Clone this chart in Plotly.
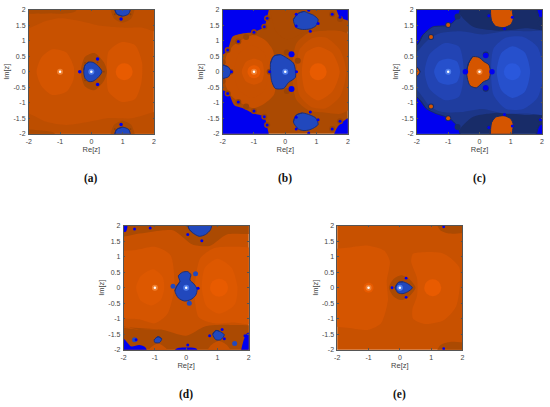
import plotly.graph_objects as go

# ---------- region outlines (Re, Im) ----------
SQ_X = [-2.3, 2.3, 2.3, -2.3]
SQ_Y = [-2.3, -2.3, 2.3, 2.3]

# panel a
A_TOP_X = [-2.3, -2, -1.5, -1, -0.3, 0.3, 1, 1.6, 2, 2.3, 2.3, -2.3]
A_TOP_Y = [1.3, 1.4, 1.62, 1.72, 1.62, 1.48, 1.42, 1.42, 1.3, 1.25, 2.3, 2.3]
A_BOT_X = [-2.3, -2, -1.5, -0.8, 0, 0.5, 1.3, 2, 2.3, 2.3, -2.3]
A_BOT_Y = [-1.25, -1.35, -1.6, -1.72, -1.6, -1.5, -1.5, -1.3, -1.25, -2.3, -2.3]
A_TL_X = [-2.3, -1.5, -0.9, -0.5, -0.4, -2.3]
A_TL_Y = [1.9, 1.88, 1.87, 1.95, 2.3, 2.3]
A_BL_X = [-2.3, -1.6, -1.2, -1.0, -2.3]
A_BL_Y = [-1.88, -1.9, -1.97, -2.3, -2.3]
A_LL_X = [-1.75, -1.6, -1.25, -0.8, -0.56, -0.57, -0.8, -1.25, -1.6]
A_LL_Y = [0, 0.45, 0.72, 0.62, 0.15, -0.25, -0.65, -0.75, -0.45]
A_RL_X = [0.5, 0.55, 0.95, 1.4, 1.62, 1.6, 1.4, 0.95, 0.55]
A_RL_Y = [0, 0.65, 0.95, 0.85, 0.3, -0.35, -0.88, -0.97, -0.65]
A_HALO_X = [-0.34, -0.2, 0.1, 0.4, 0.5, 0.4, 0.1, -0.2]
A_HALO_Y = [0, 0.48, 0.6, 0.3, 0, -0.3, -0.6, -0.48]
A_BLOB_X = [-0.24, -0.2, -0.08, 0.05, 0.2, 0.34, 0.2, 0.05, -0.08, -0.2, -0.24]
A_BLOB_Y = [0.05, 0.22, 0.31, 0.3, 0.2, 0, -0.2, -0.31, -0.32, -0.22, -0.05]
A_THALO_X = [0.6, 0.72, 1.0, 1.28, 1.4]
A_THALO_Y = [2.3, 1.72, 1.58, 1.72, 2.3]
A_TB_X = [0.72, 0.8, 1.0, 1.2, 1.26]
A_TB_Y = [2.3, 1.87, 1.79, 1.87, 2.3]
A_BHALO_X = [0.6, 0.72, 1.0, 1.28, 1.4]
A_BHALO_Y = [-2.3, -1.72, -1.58, -1.72, -2.3]
A_BB_X = [0.72, 0.8, 1.0, 1.2, 1.26]
A_BB_Y = [-2.3, -1.87, -1.79, -1.87, -2.3]
A_DOT_X = [0.2, 0.2, -0.37, 0.95, 0.95]
A_DOT_Y = [0.41, -0.41, 0, 1.7, -1.7]
A_SPECK_X = [-0.2, -0.2, 0.2, 0.4, 0.75, 1.25, 0.75, 1.25]
A_SPECK_Y = [0.28, -0.28, 0.3, 0, 1.85, 1.85, -1.85, -1.85]

# panel b
B_DARK_X = [-0.55, -0.3, 0, 0.3, 0.55, 0.75, 1.2, 1.6, 1.9, 2.3, 2.3, -2.3, -2.3]
B_DARK_Y = [2.3, 1.3, 1.05, 1.1, 1.25, 1.3, 1.3, 1.3, 1.3, 1.3, 2.3, 2.3, 2.3]
B_MID_X = [-1.9, -1.7, -1.35, -1.0, -0.65, -0.4, -0.3, -0.35, -0.65, -1.0, -1.35, -1.7, -1.9]
B_MID_Y = [0.45, 0.8, 1.05, 1.18, 1.02, 0.7, 0, -0.72, -1.02, -1.18, -1.05, -0.8, -0.45]
B_MR_X = [0.2, 0.35, 0.75, 1.3, 1.8, 2.3, 2.3, 1.8, 1.3, 0.75, 0.35, 0.2]
B_MR_Y = [0, 0.9, 1.25, 1.32, 1.3, 1.0, -1.0, -1.35, -1.32, -1.25, -0.9, 0]
B_LL_X = [-1.63, -1.5, -1.1, -0.7, -0.53, -0.7, -1.1, -1.5]
B_LL_Y = [0, 0.55, 0.85, 0.65, 0, -0.65, -0.85, -0.55]
B_LI_X = [-1.39, -1.25, -1, -0.75, -0.68, -0.75, -1, -1.25]
B_LI_Y = [0, 0.32, 0.42, 0.32, 0, -0.32, -0.42, -0.32]
B_RL_X = [0.37, 0.45, 0.85, 1.3, 1.75, 1.95, 1.75, 1.3, 0.85, 0.45]
B_RL_Y = [0, 0.7, 1.08, 1.1, 0.7, 0, -0.8, -1.18, -1.15, -0.75]
B_RI_X = [0.53, 0.65, 1.05, 1.5, 1.74, 1.5, 1.05, 0.65]
B_RI_Y = [0, 0.6, 0.8, 0.6, 0, -0.65, -0.93, -0.65]
B_TL_X = [-2.3, -2, -1.84, -1.68, -1.37, -1, -0.68, -0.58, -0.53, -2.3]
B_TL_Y = [0.55, 0.55, 0.7, 1.13, 1.23, 1.28, 1.44, 1.75, 2.3, 2.3]
B_BL_X = [-2.3, -2, -1.8, -1.63, -1.37, -1, -0.68, -0.58, -0.53, -2.3]
B_BL_Y = [-0.6, -0.6, -0.72, -1.08, -1.17, -1.35, -1.45, -1.77, -2.3, -2.3]
B_TR_X = [1.6, 1.74, 2, 2.3, 2.3]
B_TR_Y = [2.3, 1.76, 1.65, 1.6, 2.3]
B_BR_X = [1.5, 1.68, 2, 2.3, 2.3]
B_BR_Y = [-2.3, -1.77, -1.5, -1.45, -2.3]
B_C_X = [-0.47, -0.37, -0.16, 0.05, 0.26, 0.32, 0.32, 0.1, -0.05, -0.32, -0.44, -0.47]
B_C_Y = [0.28, 0.5, 0.55, 0.44, 0.28, 0.07, -0.19, -0.35, -0.54, -0.54, -0.29, 0]
B_T_X = [0.26, 0.42, 0.6, 0.75, 0.9, 1.05, 0.98, 0.8, 0.55, 0.35]
B_T_Y = [1.68, 1.88, 1.94, 1.88, 1.82, 1.68, 1.48, 1.38, 1.36, 1.42]
B_B_X = [0.26, 0.35, 0.55, 0.8, 0.98, 1.05, 0.9, 0.75, 0.6, 0.42]
B_B_Y = [-1.62, -1.4, -1.33, -1.4, -1.5, -1.7, -1.82, -1.88, -1.9, -1.85]
B_E_X = [-2.3, -2, -1.82, -1.74, -1.82, -2, -2.3]
B_E_Y = [0.3, 0.22, 0.15, 0, -0.17, -0.22, -0.3]
B_HALO_X = [-1.5, -1.5, -1.0, -1.0, -1.84, -1.84, -0.67, -0.67, -0.58, -0.58, -1.75, -0.5, 1.5, 1.75, 1.5, 1.75, -2, -2, -1.25, -1.25, 0.4, 0.05, 0.05]
B_HALO_Y = [0.97, -0.98, 1.27, -1.27, 0.7, -0.7, 1.45, -1.45, 1.72, -1.72, 0, 0, 1.85, 1.7, -1.85, -1.6, 0.3, -0.3, 1.12, -1.12, 0.35, 0.62, -0.62]
B_DOT_X = [-1.5, -1.5, -1.0, -1.0, -1.84, -1.84, -0.67, -0.67, -0.58, -0.58, -1.72, -0.5, 0.36, 0.35, 0.35, 0.8, 1.05, 0.75, 0.35, 0.35, 0.8, 1.05, 0.75, 1.5, 1.75, 1.5, 1.75]
B_DOT_Y = [0.97, -0.98, 1.27, -1.27, 0.7, -0.7, 1.45, -1.45, 1.72, -1.72, 0, 0, 0, 1.85, 1.47, 1.3, 1.55, 1.98, -1.85, -1.47, -1.3, -1.55, -1.98, 1.85, 1.75, -1.85, -1.6]
B_BIG_X = [0.2, 0.2]
B_BIG_Y = [0.56, -0.56]

# panel c
C_MID_X = [-2.3, -1.9, -1.55, -1.2, -0.6, 0.1, 0.8, 1.5, 2.3, 2.3, 1.5, 0.8, 0.1, -0.6, -1.2, -1.55, -1.9, -2.3]
C_MID_Y = [0.2, 0.75, 1.1, 1.25, 1.3, 1.2, 1.3, 1.3, 1.25, -1.35, -1.35, -1.35, -1.2, -1.3, -1.3, -1.15, -0.7, -0.2]
C_LL_X = [-1.75, -1.6, -1.1, -0.65, -0.5, -0.65, -1.1, -1.6]
C_LL_Y = [0, 0.55, 0.92, 0.8, 0, -0.8, -0.92, -0.55]
C_LI_X = [-1.45, -1.3, -1, -0.72, -0.62, -0.72, -1, -1.3]
C_LI_Y = [0, 0.33, 0.42, 0.33, 0, -0.33, -0.42, -0.33]
C_RL_X = [0.37, 0.45, 0.85, 1.4, 1.85, 2.05, 1.85, 1.4, 0.85, 0.45]
C_RL_Y = [0, 0.75, 1.1, 1.12, 0.8, 0, -0.85, -1.2, -1.2, -0.75]
C_RI_X = [0.55, 0.7, 1.05, 1.45, 1.62, 1.45, 1.05, 0.7]
C_RI_Y = [0, 0.6, 0.82, 0.62, 0, -0.65, -0.85, -0.6]
C_TL_X = [-2.3, -2, -1.81, -1.5, -0.97, -0.7, -0.6, -2.3]
C_TL_Y = [0.86, 0.86, 1.18, 1.44, 1.5, 1.76, 2.3, 2.3]
C_BL_X = [-2.3, -2, -1.7, -1.39, -0.97, -0.7, -0.6, -2.3]
C_BL_Y = [-0.82, -0.82, -1.19, -1.35, -1.5, -1.77, -2.3, -2.3]
C_TR_X = [1.8, 1.9, 2.3, 2.3]
C_TR_Y = [2.3, 1.82, 1.78, 2.3]
C_BR_X = [1.8, 1.9, 2.3, 2.3]
C_BR_Y = [-2.3, -1.75, -1.6, -2.3]
C_DARK_TX = [-0.65, -0.2, 0.7, 1.5, 2.3, 2.3, -0.6]
C_DARK_TY = [1.9, 1.45, 1.32, 1.4, 1.35, 2.3, 2.3]
C_DARK_BX = [-0.65, -0.2, 0.7, 1.5, 2.3, 2.3, -0.6]
C_DARK_BY = [-1.9, -1.45, -1.32, -1.4, -1.35, -2.3, -2.3]
C_C_X = [-0.41, -0.35, -0.22, -0.02, 0.15, 0.3, 0.35, 0.3, 0.12, -0.1, -0.3, -0.38]
C_C_Y = [0, 0.27, 0.48, 0.46, 0.32, 0.22, 0, -0.24, -0.33, -0.52, -0.45, -0.25]
C_T_X = [0.35, 0.38, 0.5, 0.78, 1.0, 1.08, 1.05, 1.0]
C_T_Y = [2.3, 1.65, 1.47, 1.42, 1.52, 1.7, 1.95, 2.3]
C_B_X = [0.35, 0.38, 0.5, 0.78, 1.0, 1.08, 1.05, 1.0]
C_B_Y = [-2.3, -1.65, -1.47, -1.42, -1.52, -1.7, -1.95, -2.3]
C_E_X = [-2.3, -2, -1.9, -2, -2.3]
C_E_Y = [0.2, 0.15, 0, -0.15, -0.2]
C_HALO_X = [-1.55, -1.55, -1.0, -1.0, -0.7, -0.7, 1.05, 1.05, 1.95, 1.95, 0.35, 0.35, 0.2, 0.2]
C_HALO_Y = [1.12, -1.12, 1.5, -1.5, 1.78, -1.78, 1.9, -1.9, 1.55, -1.55, 1.8, -1.8, 0.55, -0.55]
C_OR_X = [-1.55, -1.55, -1.0, -1.0]
C_OR_Y = [1.12, -1.12, 1.5, -1.5]
C_BIG_X = [0.2, 0.2, -0.45, 0.4]
C_BIG_Y = [0.52, -0.52, 0, 0]
C_DOT_X = [0.8, 0.8, 0.3, 0.3, 1.05, 1.05, 1.95, 1.95]
C_DOT_Y = [1.38, -1.38, 1.8, -1.8, 1.75, -1.75, 1.8, -1.55]

# panel d
D_TOP_X = [-2.3, -1.5, -0.8, -0.4, 0.2, 0.75, 1.3, 2.3, 2.3, -2.3]
D_TOP_Y = [1.65, 1.75, 1.85, 1.85, 1.4, 1.35, 1.72, 1.78, 2.3, 2.3]
D_BOT_X = [-2.3, -1.5, -0.8, 0, 0.6, 1.4, 2.3, 2.3, -2.3]
D_BOT_Y = [-1.25, -1.35, -1.35, -1.55, -1.25, -1.2, -1.3, -2.3, -2.3]
D_LL_X = [-2.3, -1.6, -1.0, -0.5, -0.38, -0.6, -1.0, -1.5, -2.3]
D_LL_Y = [1.1, 1.22, 1.32, 1.05, 0.0, -0.85, -1.15, -1.02, -0.9]
D_LI_X = [-1.6, -1.45, -1.05, -0.75, -0.7, -0.8, -1.1, -1.45]
D_LI_Y = [0, 0.38, 0.6, 0.35, 0, -0.38, -0.57, -0.42]
D_RL_X = [0.27, 0.45, 0.9, 1.5, 2.3, 2.3, 1.5, 0.9, 0.4, 0.27]
D_RL_Y = [0, 0.95, 1.28, 1.32, 1.2, -1.15, -1.12, -1.15, -0.95, -0.3]
D_RI_X = [0.5, 0.6, 1.0, 1.45, 1.64, 1.55, 1.05, 0.65]
D_RI_Y = [0, 0.65, 0.94, 0.65, 0, -0.55, -0.84, -0.6]
D_BC_X = [0.55, 0.8, 1.05, 1.3, 1.55]
D_BC_Y = [-2.3, -1.85, -1.72, -1.85, -2.3]
D_BL2_X = [-1.3, -1.15, -0.9, -0.65, -0.5]
D_BL2_Y = [-2.3, -1.95, -1.8, -1.95, -2.3]
D_C_X = [-0.36, -0.3, -0.2, -0.25, -0.12, 0.05, 0.15, 0.12, 0.25, 0.35, 0.3, 0.15, -0.05, -0.25]
D_C_Y = [-0.1, 0.05, 0.2, 0.38, 0.5, 0.52, 0.42, 0.25, 0.12, -0.05, -0.25, -0.38, -0.43, -0.33]
D_TB_X = [0.06, 0.08, 0.2, 0.42, 0.62, 0.78, 0.82]
D_TB_Y = [2.3, 1.92, 1.78, 1.66, 1.72, 1.88, 2.3]
D_R_X = [0.85, 0.95, 1.05, 1.22, 1.1, 0.95]
D_R_Y = [-1.5, -1.38, -1.4, -1.52, -1.68, -1.68]
D_LB_X = [-1.02, -0.9, -0.78, -0.85, -1.0]
D_LB_Y = [-1.68, -1.58, -1.65, -1.77, -1.77]
D_CBL_X = [-2.3, -2, -1.9, -1.75, -1.5, -1.3, -1.22, -2.3]
D_CBL_Y = [-1.62, -1.65, -1.75, -1.9, -1.85, -1.93, -2.3, -2.3]
D_CBM_X = [-0.55, -0.3, 0.0, 0.32, 0.45]
D_CBM_Y = [-2.3, -1.96, -1.93, -1.96, -2.3]
D_CBR_X = [1.75, 1.82, 1.95, 2.3, 2.3]
D_CBR_Y = [-2.3, -1.75, -1.47, -1.45, -2.3]
D_CTL_X = [-2.3, -1.92, -1.9, -2.3]
D_CTL_Y = [1.85, 1.82, 2.3, 2.3]
D_BIG_X = [0.1, 0.3, -0.42, 1.55, -1.65]
D_BIG_Y = [-0.5, 0.45, 0.05, -1.8, -1.68]
D_DOT_X = [0.5, 0.05, 0.38, 0.75, 1.22, 1.15, 0.05, -1.65, -1.6, -1.15, 1.88]
D_DOT_Y = [1.52, 1.72, -0.02, -1.55, -1.65, -1.35, -1.85, 1.9, -1.68, 1.93, -1.55]

# panel e
E_LL_X = [-2.3, -1.6, -1.0, -0.5, -0.32, -0.42, -0.38, -0.6, -1.0, -1.6, -2.3]
E_LL_Y = [1.15, 1.3, 1.36, 1.2, 0.85, 0.2, -0.4, -1.15, -1.36, -1.3, -1.15]
E_RL_X = [0.36, 0.42, 0.8, 1.4, 1.9, 1.8, 1.4, 0.8, 0.42, 0.4, 0.55, 0.55]
E_RL_Y = [0.85, 1.1, 1.15, 1.1, 0.65, -0.6, -1.05, -1.17, -1.0, -0.7, -0.25, 0.3]
E_TR_X = [1.05, 1.3, 1.6, 2.3, 2.3, 1.05]
E_TR_Y = [2.3, 1.85, 1.75, 1.85, 2.3, 2.3]
E_BR_X = [1.05, 1.3, 1.6, 2.3, 2.3, 1.05]
E_BR_Y = [-2.3, -1.85, -1.75, -1.85, -2.3, -2.3]
E_HALO_X = [-0.35, -0.2, 0.05, 0.3, 0.5, 0.3, 0.05, -0.2]
E_HALO_Y = [0, 0.28, 0.4, 0.28, 0, -0.28, -0.4, -0.28]
E_BLOB_X = [-0.15, -0.05, 0.1, 0.25, 0.4, 0.25, 0.1, -0.05]
E_BLOB_Y = [0, 0.17, 0.19, 0.13, 0, -0.13, -0.19, -0.17]
E_DOT_X = [0.2, 0.2, -0.25, 1.4, 1.4]
E_DOT_Y = [0.31, -0.31, 0, 1.97, -1.97]

# root markers
ROOT_X = [-1, 0]
ROOT_Y = [0, 0]
RIGHT_X = [1.05]
RIGHT_Y = [0]

X_TICKS = [-2, -1, 0, 1, 2]
Y_TICKS = [-2, -1.5, -1, -0.5, 0, 0.5, 1, 1.5, 2]
X_TEXT = ["-2", "-1", "0", "1", "2"]
Y_TEXT = ["-2", "-1.5", "-1", "-0.5", "0", "0.5", "1", "1.5", "2"]
CAPTIONS = ["<b>(a)</b>", "<b>(b)</b>", "<b>(c)</b>", "<b>(d)</b>", "<b>(e)</b>"]

# ---------- styles ----------
W, H = 550, 407
O0, O1, O2, O3, O4, O5 = "#8f3f05", "#ab4a02", "#bd4e00", "#c85100", "#d55500", "#e85b00"
BL0, BL1, BL2, BL3, BL4 = "#182c68", "#1c3688", "#1f3d9f", "#2244b4", "#2650cc"
PURE, BLOB, EDGE = "#0000f0", "#2148bd", "#1e2f78"
PANELS = [(26, 152.3, 5.7, 132), (221.7, 348, 5.7, 132), (417.7, 544, 5.7, 132),
          (121.7, 248, 225.7, 351.7), (337.3, 463.7, 225.7, 351.7)]
CAP_POS = [(89, 178), (285, 178), (481, 178), (184.5, 397), (400.5, 397)]

fig = go.Figure()


def poly(p, xs, ys, fill, edge=None, shape="spline"):
    wrap = 3 if shape == "spline" else 1
    fig.add_trace(go.Scatter(
        x=xs + xs[:wrap], y=ys + ys[:wrap], mode="lines", fill="toself", fillcolor=fill,
        line=dict(width=1 if edge else 0, color=edge or fill, shape=shape, smoothing=0.7),
        xaxis=f"x{p + 1}", yaxis=f"y{p + 1}", hoverinfo="skip", showlegend=False))


def dots(p, xs, ys, size, color):
    fig.add_trace(go.Scatter(
        x=xs, y=ys, mode="markers", marker=dict(size=size, color=color, line=dict(width=0)),
        xaxis=f"x{p + 1}", yaxis=f"y{p + 1}", hoverinfo="skip", showlegend=False))


def roots(p, hot, cold):
    dots(p, ROOT_X[:1], ROOT_Y[:1], 6, hot)
    dots(p, ROOT_X[1:], ROOT_Y[1:], 6, cold)
    dots(p, ROOT_X, ROOT_Y, 2.5, "#ffffff")


# a
poly(0, SQ_X, SQ_Y, O3, shape="linear")
poly(0, A_TOP_X, A_TOP_Y, O2)
poly(0, A_BOT_X, A_BOT_Y, O2)
poly(0, A_TL_X, A_TL_Y, O1)
poly(0, A_BL_X, A_BL_Y, O1)
poly(0, A_LL_X, A_LL_Y, O4)
poly(0, A_RL_X, A_RL_Y, O4)
dots(0, RIGHT_X, RIGHT_Y, 17, O5)
poly(0, A_HALO_X, A_HALO_Y, O1)
poly(0, A_THALO_X, A_THALO_Y, O1)
poly(0, A_BHALO_X, A_BHALO_Y, O1)
poly(0, A_BLOB_X, A_BLOB_Y, BLOB, EDGE)
poly(0, A_TB_X, A_TB_Y, BLOB, EDGE)
poly(0, A_BB_X, A_BB_Y, BLOB, EDGE)
dots(0, A_DOT_X, A_DOT_Y, 3.5, PURE)
dots(0, A_SPECK_X, A_SPECK_Y, 1.8, O0)
roots(0, "#f08030", "#4d7bea")

# b
poly(1, SQ_X, SQ_Y, O1, shape="linear")
poly(1, B_DARK_X, B_DARK_Y, O1)
poly(1, B_MID_X, B_MID_Y, O3)
poly(1, B_MR_X, B_MR_Y, O2)
poly(1, B_LL_X, B_LL_Y, O3)
poly(1, B_LI_X, B_LI_Y, O4)
poly(1, B_RL_X, B_RL_Y, O3)
poly(1, B_RI_X, B_RI_Y, O4)
dots(1, RIGHT_X, RIGHT_Y, 17, O5)
dots(1, ROOT_X[:1], ROOT_Y[:1], 13, O5)
poly(1, B_TL_X, B_TL_Y, PURE)
poly(1, B_BL_X, B_BL_Y, PURE)
poly(1, B_TR_X, B_TR_Y, PURE)
poly(1, B_BR_X, B_BR_Y, PURE)
dots(1, B_HALO_X, B_HALO_Y, 6, "#9a4305")
poly(1, B_C_X, B_C_Y, BLOB, EDGE)
poly(1, B_T_X, B_T_Y, BLOB, EDGE)
poly(1, B_B_X, B_B_Y, BLOB, EDGE)
poly(1, B_E_X, B_E_Y, BLOB, EDGE)
dots(1, B_BIG_X, B_BIG_Y, 6, PURE)
dots(1, B_DOT_X, B_DOT_Y, 3, PURE)
roots(1, "#f08030", "#4d7bea")

# c
poly(2, SQ_X, SQ_Y, BL1, shape="linear")
poly(2, C_DARK_TX, C_DARK_TY, BL0)
poly(2, C_DARK_BX, C_DARK_BY, BL0)
poly(2, C_MID_X, C_MID_Y, BL2)
poly(2, C_LL_X, C_LL_Y, BL3)
poly(2, C_LI_X, C_LI_Y, BL4)
poly(2, C_RL_X, C_RL_Y, BL3)
poly(2, C_RI_X, C_RI_Y, BL4)
dots(2, RIGHT_X, RIGHT_Y, 17, "#2a58dc")
poly(2, C_TL_X, C_TL_Y, PURE, BL0)
poly(2, C_BL_X, C_BL_Y, PURE, BL0)
poly(2, C_TR_X, C_TR_Y, PURE, BL0)
poly(2, C_BR_X, C_BR_Y, PURE, BL0)
dots(2, C_HALO_X, C_HALO_Y, 6, BL0)
poly(2, C_C_X, C_C_Y, O4, BL0)
poly(2, C_T_X, C_T_Y, O4, BL0)
poly(2, C_B_X, C_B_Y, O4, BL0)
poly(2, C_E_X, C_E_Y, O4, BL0)
dots(2, C_OR_X, C_OR_Y, 4, O4)
dots(2, C_BIG_X, C_BIG_Y, 5.5, PURE)
dots(2, C_DOT_X, C_DOT_Y, 3, PURE)
roots(2, "#4d7bea", "#f08030")

# d
poly(3, SQ_X, SQ_Y, O3, shape="linear")
poly(3, D_TOP_X, D_TOP_Y, O1)
poly(3, D_BOT_X, D_BOT_Y, O1)
poly(3, D_LL_X, D_LL_Y, O4)
poly(3, D_RL_X, D_RL_Y, O4)
poly(3, D_LI_X, D_LI_Y, "#dd5800")
poly(3, D_RI_X, D_RI_Y, "#dd5800")
dots(3, RIGHT_X, RIGHT_Y, 18, O5)
poly(3, D_BC_X, D_BC_Y, O3)
poly(3, D_BL2_X, D_BL2_Y, O3)
poly(3, D_CBL_X, D_CBL_Y, PURE)
poly(3, D_CBM_X, D_CBM_Y, PURE)
poly(3, D_CBR_X, D_CBR_Y, PURE)
poly(3, D_CTL_X, D_CTL_Y, PURE)
poly(3, D_C_X, D_C_Y, BLOB, EDGE)
poly(3, D_TB_X, D_TB_Y, BLOB, EDGE)
poly(3, D_R_X, D_R_Y, BLOB, EDGE)
poly(3, D_LB_X, D_LB_Y, BLOB, EDGE)
dots(3, D_BIG_X, D_BIG_Y, 5, BLOB)
dots(3, D_DOT_X, D_DOT_Y, 3, PURE)
roots(3, "#f08030", "#4d7bea")

# e
poly(4, SQ_X, SQ_Y, O3, shape="linear")
poly(4, E_LL_X, E_LL_Y, O4)
poly(4, E_RL_X, E_RL_Y, O4)
poly(4, E_TR_X, E_TR_Y, O1)
poly(4, E_BR_X, E_BR_Y, O1)
dots(4, RIGHT_X, RIGHT_Y, 17, O5)
dots(4, ROOT_X[:1], ROOT_Y[:1], 10, O5)
poly(4, E_HALO_X, E_HALO_Y, O1)
poly(4, E_BLOB_X, E_BLOB_Y, BLOB, EDGE)
dots(4, E_DOT_X, E_DOT_Y, 2.8, PURE)
roots(4, "#f08030", "#4d7bea")

layout = dict(width=W, height=H, margin=dict(l=0, r=0, t=0, b=0),
              paper_bgcolor="white", plot_bgcolor="white", showlegend=False)
tick = dict(range=[-2, 2], showgrid=False, zeroline=False, showline=True, mirror="ticks",
            linecolor="#555555", linewidth=0.6, ticks="inside", ticklen=1.5, tickwidth=0.6,
            tickcolor="#555555", tickangle=0,
            tickfont=dict(family="Liberation Sans", size=7, color="#444444"))
annotations = []
for i, (x0, x1, y0, y1) in enumerate(PANELS):
    n = i + 1
    layout[f"xaxis{n}"] = dict(tick, domain=[x0 / W, x1 / W], anchor=f"y{n}",
                               tickvals=X_TICKS, ticktext=X_TEXT, ticklabelstandoff=1,
                               title=dict(text="Re[z]", standoff=2,
                                          font=dict(family="Liberation Sans", size=7.5, color="#444444")))
    layout[f"yaxis{n}"] = dict(tick, domain=[1 - y1 / H, 1 - y0 / H], anchor=f"x{n}",
                               tickvals=Y_TICKS, ticktext=Y_TEXT, ticklabelstandoff=1,
                               title=dict(text="Im[z]", standoff=2,
                                          font=dict(family="Liberation Sans", size=7.5, color="#444444")))
    cx, cy = CAP_POS[i]
    annotations.append(dict(x=cx / W, y=1 - cy / H, xref="paper", yref="paper", text=CAPTIONS[i],
                            showarrow=False, xanchor="center", yanchor="middle",
                            font=dict(family="Liberation Serif", size=11.5, color="#111111")))
layout["annotations"] = annotations
fig.update_layout(**layout)
fig.write_html("out.html", config={"displayModeBar": False},
               post_script="document.body.style.margin='0';document.body.style.overflow='hidden';")
